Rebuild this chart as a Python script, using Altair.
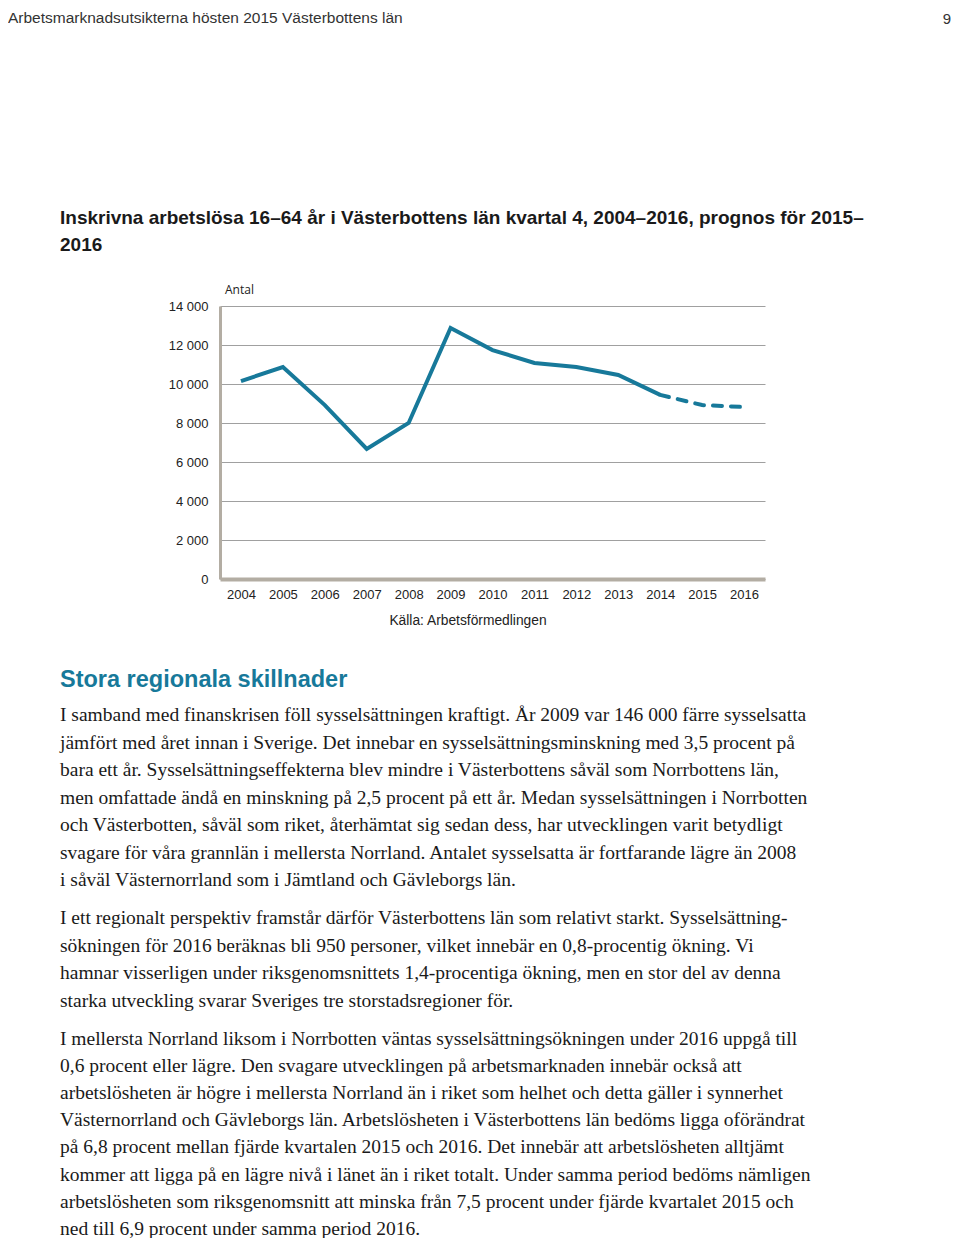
import altair as alt
import pandas as pd

# ---- data ----
years = ["2004", "2005", "2006", "2007", "2008", "2009", "2010",
         "2011", "2012", "2013", "2014", "2015", "2016"]
values = [10150, 10870, 8920, 6670, 8000, 12870, 11740,
          11080, 10870, 10460, 9440, 8920, 8820]
forecast_start = "2014"

y_ticks = [0, 2000, 4000, 6000, 8000, 10000, 12000, 14000]

header_text = "Arbetsmarknadsutsikterna hösten 2015 Västerbottens län"
page_number = "9"
chart_title = ["Inskrivna arbetslösa 16–64 år i Västerbottens län kvartal 4, 2004–2016, prognos för 2015–",
               "2016"]
unit_label = "Antal"
source_text = "Källa: Arbetsförmedlingen"
section_heading = "Stora regionala skillnader"
paragraph1 = [
    "I samband med finanskrisen föll sysselsättningen kraftigt. År 2009 var 146 000 färre sysselsatta",
    "jämfört med året innan i Sverige. Det innebar en sysselsättningsminskning med 3,5 procent på",
    "bara ett år. Sysselsättningseffekterna blev mindre i Västerbottens såväl som Norrbottens län,",
    "men omfattade ändå en minskning på 2,5 procent på ett år. Medan sysselsättningen i Norrbotten",
    "och Västerbotten, såväl som riket, återhämtat sig sedan dess, har utvecklingen varit betydligt",
    "svagare för våra grannlän i mellersta Norrland. Antalet sysselsatta är fortfarande lägre än 2008",
    "i såväl Västernorrland som i Jämtland och Gävleborgs län.",
]
paragraph2 = [
    "I ett regionalt perspektiv framstår därför Västerbottens län som relativt starkt. Sysselsättning-",
    "sökningen för 2016 beräknas bli 950 personer, vilket innebär en 0,8-procentig ökning. Vi",
    "hamnar visserligen under riksgenomsnittets 1,4-procentiga ökning, men en stor del av denna",
    "starka utveckling svarar Sveriges tre storstadsregioner för.",
]
paragraph3 = [
    "I mellersta Norrland liksom i Norrbotten väntas sysselsättningsökningen under 2016 uppgå till",
    "0,6 procent eller lägre. Den svagare utvecklingen på arbetsmarknaden innebär också att",
    "arbetslösheten är högre i mellersta Norrland än i riket som helhet och detta gäller i synnerhet",
    "Västernorrland och Gävleborgs län. Arbetslösheten i Västerbottens län bedöms ligga oförändrat",
    "på 6,8 procent mellan fjärde kvartalen 2015 och 2016. Det innebär att arbetslösheten alltjämt",
    "kommer att ligga på en lägre nivå i länet än i riket totalt. Under samma period bedöms nämligen",
    "arbetslösheten som riksgenomsnitt att minska från 7,5 procent under fjärde kvartalet 2015 och",
    "ned till 6,9 procent under samma period 2016.",
]

df = pd.DataFrame({"year": years, "value": values})
fi = years.index(forecast_start)
df_actual = df.iloc[: fi + 1]
df_forecast = df.iloc[fi:]

# ---- layout (plot area origin on page: 220, 306) ----
OX, OY = 220, 306
W, H = 545, 273
TEAL = "#17799a"
AXIS_GREY = "#b3ada3"
SANS = "Liberation Sans"
SERIF = "Liberation Serif"

x_enc = alt.X("year:O", scale=alt.Scale(type="point", padding=0.5),
              axis=alt.Axis(title=None, labelAngle=0, labelFontSize=13, labelFont=SANS,
                            labelColor="#222", labelPadding=9, ticks=False,
                            domainColor=AXIS_GREY, domainWidth=4, grid=False))
y_enc = alt.Y("value:Q", scale=alt.Scale(domain=[0, 14000], nice=False),
              axis=alt.Axis(title=None, values=y_ticks, labelFontSize=13, labelFont=SANS,
                            labelColor="#222", labelPadding=12, ticks=False,
                            labelOverlap=False,
                            domainColor=AXIS_GREY, domainWidth=3,
                            grid=True, gridColor="#a0a0a0", gridWidth=1,
                            labelExpr="replace(format(datum.value, ',d'), ',', ' ')"))

line_actual = alt.Chart(df_actual).mark_line(color=TEAL, strokeWidth=4).encode(x=x_enc, y=y_enc)
line_forecast = alt.Chart(df_forecast).mark_line(
    color=TEAL, strokeWidth=4, strokeDash=[9, 9], strokeCap="round").encode(x=x_enc, y=y_enc)

one = pd.DataFrame({"k": [0]})


def txt(text, X, Y, size, font=SANS, weight="normal", color="#1a1a1a", align="left",
        baseline="middle", line_height=None):
    kw = dict(text=text, fontSize=size, font=font, fontWeight=weight, color=color,
              align=align, baseline=baseline)
    if line_height is not None:
        kw["lineHeight"] = line_height
    return alt.Chart(one).mark_text(**kw).encode(x=alt.value(X - OX), y=alt.value(Y - OY))


texts = [
    txt(header_text, 8, 18, 15.5, color="#333"),
    txt(page_number, 951, 19, 15, color="#333", align="right"),
    txt(chart_title, 60, 218, 19, weight="bold", line_height=27),
    txt(unit_label, 225, 290, 12, font="Open Sans", color="#222"),
    txt(source_text, 468, 621, 13.8, color="#222", align="center"),
    txt(section_heading, 60, 680, 23.5, weight="bold", color=TEAL),
    txt(paragraph1, 60, 715, 19.5, font=SERIF, line_height=27.5),
    txt(paragraph2, 60, 918, 19.5, font=SERIF, line_height=27.5),
    txt(paragraph3, 60, 1039, 19.5, font=SERIF, line_height=27.1),
]

chart = alt.layer(line_actual, line_forecast, *texts).properties(
    width=W, height=H,
    autosize=alt.AutoSizeParams(type="none"),
    padding={"left": OX - 8, "top": OY - 8, "right": 944 - (OX - 8) - W,
             "bottom": 1230 - (OY - 8) - H},
).configure(background="white").configure_view(stroke=None)

chart.save("out.html", embed_options={"renderer": "svg", "actions": False})
